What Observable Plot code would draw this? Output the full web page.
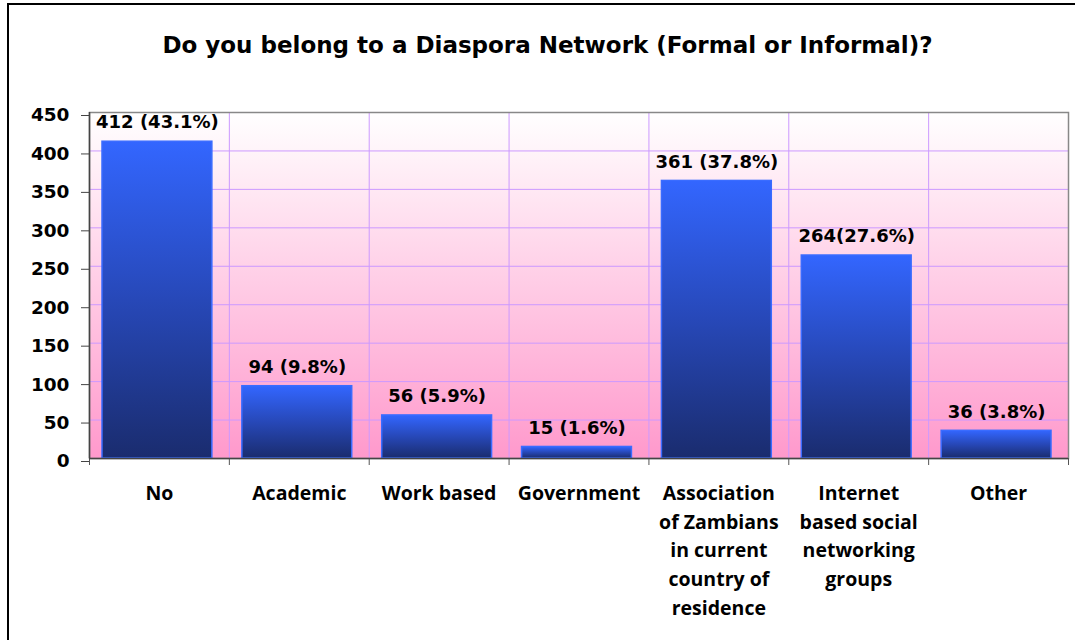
<!DOCTYPE html>
<html>
<head>
<meta charset="utf-8">
<script src="https://cdn.jsdelivr.net/npm/d3@7"></script>
<script src="https://cdn.jsdelivr.net/npm/@observablehq/plot@0.6"></script>
<style>
  html, body { margin: 0; padding: 0; background: #fff; }
  #wrap { position: relative; width: 1075px; height: 640px; overflow: hidden; background: #fff; }
  #border { position: absolute; left: 7px; top: 3px; width: 1200px; height: 800px; border-top: 2px solid #000; border-left: 2px solid #000; }
  #title { position: absolute; left: 10px; top: 34px; width: 1075px; text-align: center;
           font-family: "DejaVu Sans", sans-serif; font-weight: bold; font-size: 23px; line-height: 23px; color: #000; white-space: nowrap; }
  #chart { position: absolute; left: 0; top: 80px; }
</style>
</head>
<body>
<div id="wrap">
  <div id="border"></div>
  <div id="title">Do you belong to a Diaspora Network (Formal or Informal)?</div>
  <div id="chart"></div>
</div>
<script>
const categories = ["No", "Academic", "Work based", "Government", "Association of Zambians in current country of residence", "Internet based social networking groups", "Other"];
const tickLabels = ["No", "Academic", "Work based", "Government", "Association\nof Zambians\nin current\ncountry of\nresidence", "Internet\nbased social\nnetworking\ngroups", "Other"];
const counts = [412, 94, 56, 15, 361, 264, 36];
const valueLabels = ["412 (43.1%)", "94 (9.8%)", "56 (5.9%)", "15 (1.6%)", "361 (37.8%)", "264(27.6%)", "36 (3.8%)"];
const yTicks = [0, 50, 100, 150, 200, 250, 300, 350, 400, 450];

const data = categories.map((c, i) => ({i, category: c, count: counts[i], label: valueLabels[i], tick: tickLabels[i]}));
const bounds = d3.range(categories.length + 1);
const inner = bounds.slice(1, -1);

const valueFont = "DejaVu Sans, sans-serif";
const catFont = "Open Sans, sans-serif";

const chart = Plot.plot({
  width: 1075,
  height: 560,
  marginLeft: 89,
  marginRight: 7,
  marginTop: 32,
  marginBottom: 182,
  style: {color: "#000", background: "transparent", overflow: "visible"},
  x: {type: "linear", domain: [0, categories.length], axis: null},
  y: {domain: [0, 450], axis: null},
  marks: [
    Plot.frame({fill: "url(#bgGrad)"}),
    Plot.gridY(yTicks, {stroke: "#cc99ff", strokeOpacity: 1, strokeWidth: 1}),
    Plot.gridX(inner, {stroke: "#cc99ff", strokeOpacity: 1, strokeWidth: 1}),
    Plot.frame({stroke: "#888", strokeWidth: 1.5}),
    Plot.rectY(data, {x1: "i", x2: d => d.i + 1, y: "count", insetLeft: 13, insetRight: 17,
      fill: "url(#barGrad)", stroke: "#3a6cff", strokeWidth: 1.5}),
    Plot.text(data, {x: d => d.i + 0.5, y: "count", text: "label", dy: -19, dx: -2,
      fontFamily: valueFont, fontWeight: "bold", fontSize: 18, fill: "#000"}),
    Plot.text(data, {x: d => d.i + 0.5, frameAnchor: "bottom", text: "tick", lineAnchor: "top",
      dy: 21, lineHeight: 1.47, fontFamily: catFont, fontWeight: "bold", fontSize: 19.5, fill: "#000"}),
    Plot.axisY(yTicks, {tickSize: 8, tickPadding: 12, dy: 3, label: null, stroke: "#444",
      fontFamily: valueFont, fontWeight: "bold", fontSize: 18.5, fill: "#000"}),
    Plot.axisX(bounds, {tickSize: 7, tickFormat: () => "", label: null, stroke: "#555"}),
    Plot.ruleX([0], {stroke: "#444", strokeWidth: 1.5}),
    Plot.ruleY([0], {stroke: "#444", strokeWidth: 1.5})
  ]
});

chart.insertAdjacentHTML("afterbegin",
  '<defs>' +
  '<linearGradient id="bgGrad" x1="0" y1="0" x2="0" y2="1">' +
    '<stop offset="0" stop-color="#ffffff"/>' +
    '<stop offset="1" stop-color="#ff99cc"/>' +
  '</linearGradient>' +
  '<linearGradient id="barGrad" x1="0" y1="0" x2="0" y2="1">' +
    '<stop offset="0" stop-color="#3366ff"/>' +
    '<stop offset="0.5" stop-color="#2748b8"/>' +
    '<stop offset="1" stop-color="#1a2c6e"/>' +
  '</linearGradient>' +
  '</defs>');

document.getElementById("chart").appendChild(chart);
</script>
</body>
</html>
